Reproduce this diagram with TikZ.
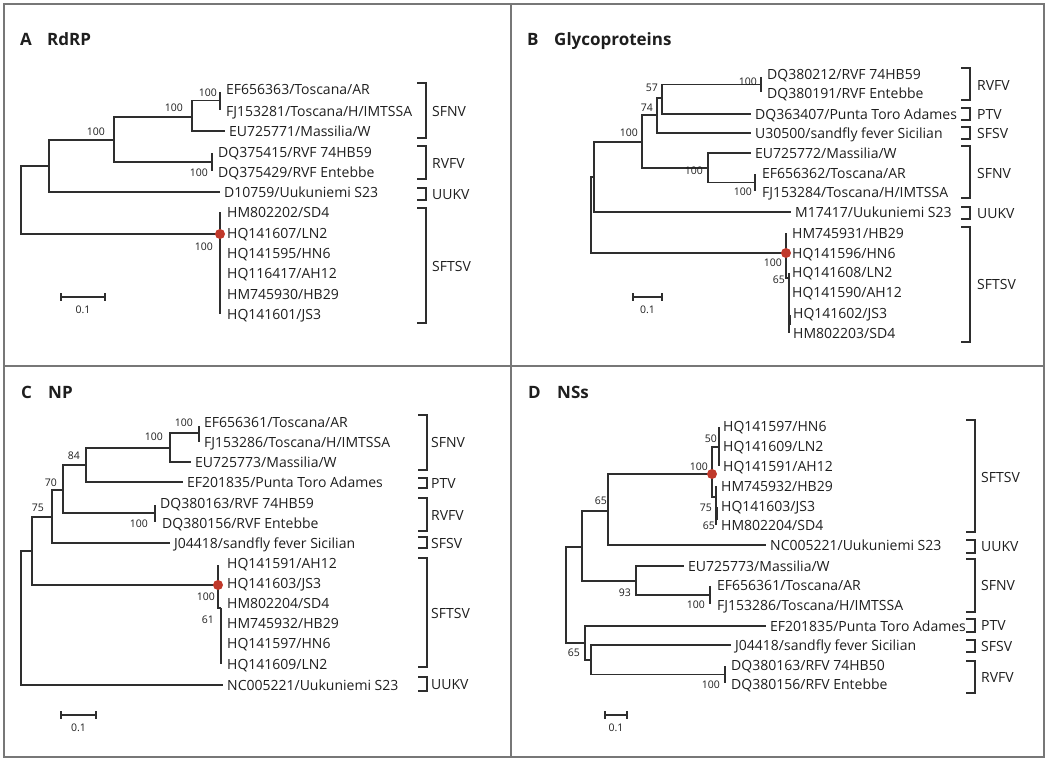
\documentclass[tikz,border=0pt]{standalone}
\usepackage{fontspec}
\setmainfont{Open Sans}
\usetikzlibrary{calc}
\definecolor{ln}{HTML}{2E2E2E}
\definecolor{fr}{HTML}{777777}
\definecolor{dotc}{HTML}{C0392B}
\definecolor{tx}{HTML}{1E1E1E}
\tikzset{
 br/.style={draw=ln, line width=1.5pt},
 leaf/.style={anchor=west, xshift=-4pt, inner xsep=4pt, inner ysep=0pt, text height=10pt, text depth=0pt, font=\fontsize{14}{16}\selectfont, text=tx},
 grp/.style={anchor=west, inner sep=0pt, text height=10pt, text depth=0pt, font=\fontsize{14}{16}\selectfont, text=tx},
 bs/.style={anchor=east, inner sep=0pt, text height=7.5pt, text depth=0pt, font=\fontsize{10.5}{12}\selectfont, text=tx},
 ttl/.style={anchor=base west, inner sep=0pt, font=\bfseries\fontsize{17}{20}\selectfont, text=tx},
 brk/.style={draw=ln, line width=1.6pt},
 dotst/.style={fill=dotc},
 sc/.style={draw=ln, line width=1.5pt},
 frm/.style={draw=fr, line width=1.8pt},
}
\newcommand{\mybrk}[3]{\draw[brk] (#1-9,#2) -- (#1,#2) -- (#1,#3) -- (#1-9,#3);}
\newcommand{\myscale}[4]{%
 \coordinate (#4a) at (#1,#3); \coordinate (#4b) at (#2,#3);
 \draw[sc] (#4a) -- (#4b);
 \draw[sc] ([yshift=4pt]#4a) -- ([yshift=-4pt]#4a);
 \draw[sc] ([yshift=4pt]#4b) -- ([yshift=-4pt]#4b);
 \node[bs, anchor=center] (#4l) at ($(#4a)!0.5!(#4b)+(0,13)$) {0.1};}
\begin{document}
\begin{tikzpicture}[x=1pt,y=-1pt]
\useasboundingbox (0,0) rectangle (1050,760);
% frame
\draw[frm] (4,4) rectangle (1044,757);
\draw[frm] (511,4) -- (511,757);
\draw[frm] (4,366) -- (1044,366);

% ================= PANEL A =================
\node[ttl] (tA) at (20,46) {A};
\node[ttl] (tAn) at (47,46) {RdRP};
\node[leaf] (a1) at (226,90) {EF656363/Toscana/AR};
\node[leaf] (a2) at (226,111) {FJ153281/Toscana/H/IMTSSA};
\node[leaf] (a3) at (229,131) {EU725771/Massilia/W};
\node[leaf] (a4) at (218,152) {DQ375415/RVF 74HB59};
\node[leaf] (a5) at (218,172) {DQ375429/RVF Entebbe};
\node[leaf] (a6) at (224,192) {D10759/Uukuniemi S23};
\node[leaf] (a7) at (227,212) {HM802202/SD4};
\node[leaf] (a8) at (227,233) {HQ141607/LN2};
\node[leaf] (a9) at (227,253) {HQ141595/HN6};
\node[leaf] (a10) at (227,273) {HQ116417/AH12};
\node[leaf] (a11) at (227,294) {HM745930/HB29};
\node[leaf] (a12) at (227,314) {HQ141601/JS3};
\coordinate (Ar) at (21,200);
\coordinate (A1) at (49,166);
\coordinate (A2) at (114,140);
\coordinate (A3) at (192,117);
\coordinate (A4) at (220,100.5);
\coordinate (A5) at (212,162);
\coordinate (A6) at (220,234);
\draw[br] (Ar) |- (A1); \draw[br] (Ar) |- (A6);
\draw[br] (A1) |- (A2); \draw[br] (A1) |- (a6.west);
\draw[br] (A2) |- (A3); \draw[br] (A2) |- (A5);
\draw[br] (A3) |- (A4); \draw[br] (A3) |- (a3.west);
\draw[br, shorten <=2pt, shorten >=1pt] (A4 |- a1.west) -- (A4 |- a2.west);
\draw[br, shorten <=1pt, shorten >=1pt] (A5 |- a4.west) -- (A5 |- a5.west);
\draw[br] (A6 |- a7.west) -- (A6 |- a12.west);
\fill[dotst] (A6) circle (5pt);
\node[bs] (pA1) at (217,93) {100};
\node[bs] (pA2) at (183,108) {100};
\node[bs] (pA3) at (105,132) {100};
\node[bs] (pA4) at (208,173) {100};
\node[bs] (pA5) at (213,247) {100};
\mybrk{426}{83}{138} \node[grp] (gA1) at (432,111) {SFNV};
\mybrk{426}{146}{179} \node[grp] (gA2) at (432,163) {RVFV};
\mybrk{426}{188}{200} \node[grp] (gA3) at (432,194) {UUKV};
\mybrk{426}{208}{323} \node[grp] (gA4) at (432,266) {SFTSV};
\myscale{61}{105}{297}{sA}

% ================= PANEL B =================
\node[ttl] (tB) at (527,46) {B};
\node[ttl] (tBn) at (554,46) {Glycoproteins};
\node[leaf] (b1) at (767,75) {DQ380212/RVF 74HB59};
\node[leaf] (b2) at (767,94) {DQ380191/RVF Entebbe};
\node[leaf] (b3) at (755,114) {DQ363407/Punta Toro Adames};
\node[leaf] (b4) at (755,133) {U30500/sandfly fever Sicilian};
\node[leaf] (b5) at (755,153) {EU725772/Massilia/W};
\node[leaf] (b6) at (762,173) {EF656362/Toscana/AR};
\node[leaf] (b7) at (762,192) {FJ153284/Toscana/H/IMTSSA};
\node[leaf] (b8) at (795,212) {M17417/Uukuniemi S23};
\node[leaf] (b9) at (792,233) {HM745931/HB29};
\node[leaf] (b10) at (792,253) {HQ141596/HN6};
\node[leaf] (b11) at (792,272) {HQ141608/LN2};
\node[leaf] (b12) at (792,292) {HQ141590/AH12};
\node[leaf] (b13) at (793,313) {HQ141602/JS3};
\node[leaf] (b14) at (793,333) {HM802203/SD4};
\coordinate (Br) at (591,215);
\coordinate (B1) at (594,177);
\coordinate (B2) at (642,142);
\coordinate (B3) at (657,115);
\coordinate (B4) at (662,98);
\coordinate (B5) at (761,84.5);
\coordinate (B6) at (708,168);
\coordinate (B7) at (755,182.5);
\coordinate (B9) at (786,253);
\coordinate (B10) at (789,278);
\draw[br] (Br) |- (B1); \draw[br] (Br) |- (B9);
\draw[br] (B1) |- (B2); \draw[br] (B1) |- (b8.west);
\draw[br] (B2) |- (B3); \draw[br] (B2) |- (B6);
\draw[br] (B3) |- (B4); \draw[br] (B3) |- (b4.west);
\draw[br] (B4) |- (B5); \draw[br] (B4) |- (b3.west);
\draw[br, shorten <=2pt, shorten >=2pt] (B5 |- b1.west) -- (B5 |- b2.west);
\draw[br] (B6) |- (b5.west); \draw[br] (B6) |- (B7);
\draw[br, shorten <=1pt, shorten >=1pt] (B7 |- b6.west) -- (B7 |- b7.west);
\draw[br] (B9 |- b9.west) -- (B9 |- B10) -- (B10);
\draw[br] ([yshift=5pt]B10) -- (B10 |- b14.west);
\draw[br, line width=2.6pt] (789.5,315) -- (789.5,325);
\fill[dotst] (B9) circle (5pt);
\node[bs] (pB1) at (757,82) {100};
\node[bs] (pB2) at (658,88) {57};
\node[bs] (pB3) at (653,108) {74};
\node[bs] (pB4) at (638,133) {100};
\node[bs] (pB5) at (703,171) {100};
\node[bs] (pB6) at (752,192) {100};
\node[bs] (pB7) at (782,263) {100};
\node[bs] (pB8) at (785,280) {65};
\mybrk{970}{68}{100} \node[grp] (gB1) at (977,85) {RVFV};
\mybrk{970}{108}{120} \node[grp] (gB2) at (977,114) {PTV};
\mybrk{970}{127}{139} \node[grp] (gB3) at (977,133) {SFSV};
\mybrk{970}{146}{198} \node[grp] (gB4) at (977,173) {SFNV};
\mybrk{970}{207}{219} \node[grp] (gB5) at (977,213) {UUKV};
\mybrk{970}{227}{342} \node[grp] (gB6) at (977,284) {SFTSV};
\myscale{633}{662}{297}{sB}

% ================= PANEL C =================
\node[ttl] (tC) at (21,398) {C};
\node[ttl] (tCn) at (48,398) {NP};
\node[leaf] (c1) at (204,422) {EF656361/Toscana/AR};
\node[leaf] (c2) at (204,442) {FJ153286/Toscana/H/IMTSSA};
\node[leaf] (c3) at (195,462) {EU725773/Massilia/W};
\node[leaf] (c4) at (187,482) {EF201835/Punta Toro Adames};
\node[leaf] (c5) at (160,503) {DQ380163/RVF 74HB59};
\node[leaf] (c6) at (162,523) {DQ380156/RVF Entebbe};
\node[leaf] (c7) at (174,543) {J04418/sandfly fever Sicilian};
\node[leaf] (c8) at (227,563) {HQ141591/AH12};
\node[leaf] (c9) at (227,583) {HQ141603/JS3};
\node[leaf] (c10) at (227,603) {HM802204/SD4};
\node[leaf] (c11) at (227,623) {HM745932/HB29};
\node[leaf] (c12) at (227,643) {HQ141597/HN6};
\node[leaf] (c13) at (227,664) {HQ141609/LN2};
\node[leaf] (c14) at (227,685) {NC005221/Uukuniemi S23};
\coordinate (Cr) at (21,618);
\coordinate (C1) at (32,551);
\coordinate (C2) at (52,517);
\coordinate (C3) at (63,490);
\coordinate (C4) at (86,465);
\coordinate (C5) at (170,448);
\coordinate (C5a) at (199,433);
\coordinate (C6) at (155,513);
\coordinate (C7) at (218,585);
\coordinate (C7b) at (221,608);
\draw[br] (Cr) |- (C1); \draw[br] (Cr) |- (c14.west);
\draw[br] (C1) |- (C2); \draw[br] (C1) |- (C7);
\draw[br] (C2) |- (C3); \draw[br] (C2) |- (c7.west);
\draw[br] (C3) |- (C4); \draw[br] (C3) |- (C6);
\draw[br] (C4) |- (C5); \draw[br] (C4) |- (c4.west);
\draw[br] (C5) |- (C5a); \draw[br] (C5) |- (c3.west);
\draw[br, shorten <=4pt] (C5a |- c1.west) -- (C5a |- c2.west);
\draw[br, shorten <=2pt, shorten >=1pt] (C6 |- c5.west) -- (C6 |- c6.west);
\draw[br, shorten <=2pt] (C7 |- c8.west) -- (C7 |- C7b) -- (C7b);
\draw[br] (C7b) -- (C7b |- c13.west);
\fill[dotst] (C7) circle (5pt);
\node[bs] (pC1) at (193,423) {100};
\node[bs] (pC2) at (163,437) {100};
\node[bs] (pC3) at (80,456) {84};
\node[bs] (pC4) at (57,483) {70};
\node[bs] (pC5) at (44,508) {75};
\node[bs] (pC6) at (148,524) {100};
\node[bs] (pC7) at (215,597) {100};
\node[bs] (pC8) at (214,620) {61};
\mybrk{427}{415}{470} \node[grp] (gC1) at (431,442) {SFNV};
\mybrk{427}{478}{488} \node[grp] (gC2) at (431,483) {PTV};
\mybrk{427}{498}{531} \node[grp] (gC3) at (431,515) {RVFV};
\mybrk{427}{537}{548} \node[grp] (gC4) at (431,543) {SFSV};
\mybrk{427}{558}{667} \node[grp] (gC5) at (431,613) {SFTSV};
\mybrk{427}{677}{691} \node[grp] (gC6) at (431,684) {UUKV};
\myscale{61}{96}{715}{sC}

% ================= PANEL D =================
\node[ttl] (tD) at (528,398) {D};
\node[ttl] (tDn) at (557,398) {NSs};
\node[leaf] (d1) at (723,426) {HQ141597/HN6};
\node[leaf] (d2) at (723,446) {HQ141609/LN2};
\node[leaf] (d3) at (723,466) {HQ141591/AH12};
\node[leaf] (d4) at (721,486) {HM745932/HB29};
\node[leaf] (d5) at (721,506) {HQ141603/JS3};
\node[leaf] (d6) at (721,525) {HM802204/SD4};
\node[leaf] (d7) at (770,545) {NC005221/Uukuniemi S23};
\node[leaf] (d8) at (688,566) {EU725773/Massilia/W};
\node[leaf] (d9) at (717,585) {EF656361/Toscana/AR};
\node[leaf] (d10) at (717,605) {FJ153286/Toscana/H/IMTSSA};
\node[leaf] (d11) at (770,626) {EF201835/Punta Toro Adames};
\node[leaf] (d12) at (735,645) {J04418/sandfly fever Sicilian};
\node[leaf] (d13) at (731,665) {DQ380163/RFV 74HB50};
\node[leaf] (d14) at (731,684) {DQ380156/RFV Entebbe};
\coordinate (Dr) at (566,595);
\coordinate (D1) at (582,547);
\coordinate (D2) at (608,511);
\coordinate (D3) at (712,474);
\coordinate (D3a) at (719,447);
\coordinate (D3b) at (716,497);
\coordinate (D5) at (636,581);
\coordinate (D6) at (710,595);
\coordinate (D7) at (585,643);
\coordinate (D8) at (591,660);
\coordinate (D9) at (725,674.5);
\draw[br] (Dr) |- (D1); \draw[br] (Dr) |- (D7);
\draw[br] (D1) |- (D2); \draw[br] (D1) |- (D5);
\draw[br] (D2) |- (D3); \draw[br] (D2) |- (d7.west);
\draw[br] (D3) |- (D3a); \draw[br] (D3) |- (D3b);
\draw[br, shorten <=1pt] (D3a |- d1.west) -- (D3a |- d3.west);
\draw[br] (D3b |- d4.west) -- (D3b |- d6.west);
\draw[br, line width=2.6pt] (716.5,507) -- (716.5,520);
\draw[br] (D5) |- (d8.west); \draw[br] (D5) |- (D6);
\draw[br, shorten <=1pt, shorten >=1pt] (D6 |- d9.west) -- (D6 |- d10.west);
\draw[br] (D7) |- (d11.west); \draw[br] (D7) |- (D8);
\draw[br] (D8) |- (d12.west); \draw[br] (D8) |- (D9);
\draw[br, shorten <=1pt, shorten >=1pt] (D9 |- d13.west) -- (D9 |- d14.west);
\fill[dotst] (D3) circle (5pt);
\node[bs] (pD1) at (717,439) {50};
\node[bs] (pD2) at (708,467) {100};
\node[bs] (pD3) at (712,508) {75};
\node[bs] (pD4) at (715,526) {65};
\node[bs] (pD5) at (607,501) {65};
\node[bs] (pD6) at (631,593) {93};
\node[bs] (pD7) at (705,605) {100};
\node[bs] (pD8) at (580,653) {65};
\node[bs] (pD9) at (720,685) {100};
\mybrk{975}{420}{532} \node[grp] (gD1) at (981,477) {SFTSV};
\mybrk{975}{540}{553} \node[grp] (gD2) at (981,546) {UUKV};
\mybrk{975}{559}{612} \node[grp] (gD3) at (981,585) {SFNV};
\mybrk{975}{619}{632} \node[grp] (gD4) at (981,625) {PTV};
\mybrk{975}{640}{652} \node[grp] (gD5) at (981,646) {SFSV};
\mybrk{975}{661}{693} \node[grp] (gD6) at (981,677) {RVFV};
\myscale{605}{627}{715}{sD}
\end{tikzpicture}
\end{document}
